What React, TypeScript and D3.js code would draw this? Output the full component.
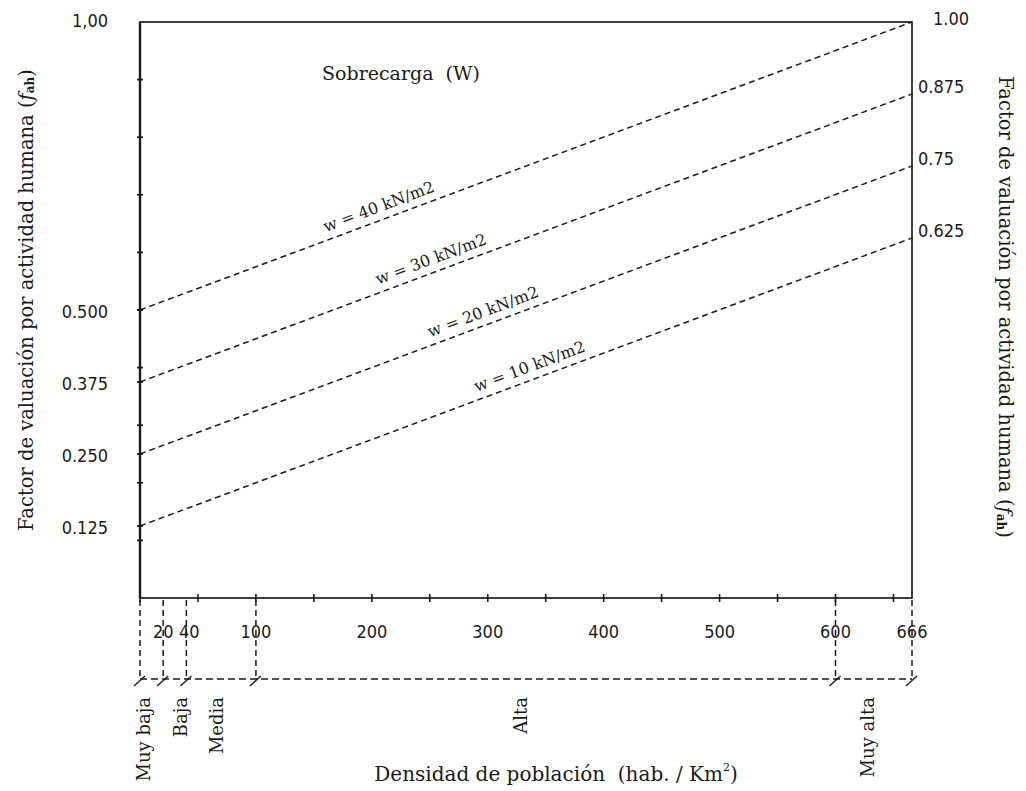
import React from "react";
import * as d3 from "d3";

const W = 1026;
const H = 791;

// Series: overload w (kN/m2), human activity factor at density 0 and 666
const loads = [10, 20, 30, 40];
const densityEnds = [0, 666];
const fahStart = [0.125, 0.25, 0.375, 0.5];
const fahEnd = [0.625, 0.75, 0.875, 1.0];
const loadLabelDensity = [340, 300, 255, 210];

// Axes
const leftTickValues = [1.0, 0.5, 0.375, 0.25, 0.125];
const leftTickLabels = ["1,00", "0.500", "0.375", "0.250", "0.125"];
const rightTickValues = [1.0, 0.875, 0.75, 0.625];
const rightTickLabels = ["1.00", "0.875", "0.75", "0.625"];
const bottomTickValues = [20, 40, 100, 200, 300, 400, 500, 600, 666];
const bottomMinorTicks = d3.range(0, 651, 50);
const leftMinorTicks = d3.range(1, 10).map((d) => d / 10);

// Density categories
const boundaries = [0, 20, 40, 100, 600, 666];
const categories = ["Muy baja", "Baja", "Media", "Alta", "Muy alta"];
const categoryAt = [3, 35, 66, 328, 628];

const SERIF = "'DejaVu Serif', 'Liberation Serif', serif";
const SANS = "'Liberation Sans Narrow', 'DejaVu Sans Condensed', 'Liberation Sans', sans-serif";

export default function App() {
  const x = d3.scaleLinear().domain([0, 666]).range([140, 912]);
  const y = d3.scaleLinear().domain([0, 1]).range([598, 22]);
  const line = d3
    .line<[number, number]>()
    .x((d) => x(d[0]))
    .y((d) => y(d[1]));

  const dimY = 679;
  const ink = "#1a1a1a";

  return (
    <svg
      width={W}
      height={H}
      style={{ position: "absolute", left: 0, top: 0, background: "#fff" }}
    >
      <rect x={0} y={0} width={W} height={H} fill="#fff" />

      {/* frame */}
      <rect
        x={x(0)}
        y={y(1)}
        width={x(666) - x(0)}
        height={y(0) - y(1)}
        fill="none"
        stroke={ink}
        strokeWidth={1.7}
      />
      <line x1={x(0)} x2={x(0)} y1={y(1)} y2={y(0)} stroke={ink} strokeWidth={2.4} />

      {/* left ticks */}
      {[...leftMinorTicks, ...fahStart].map((v, i) => (
        <line key={"lt" + i} x1={x(0) - 3} x2={x(0) + 3} y1={y(v)} y2={y(v)} stroke={ink} strokeWidth={1.8} />
      ))}
      {/* bottom ticks */}
      {bottomMinorTicks.map((v, i) => (
        <line key={"bt" + i} x1={x(v)} x2={x(v)} y1={y(0) - 4} y2={y(0) + 4} stroke={ink} strokeWidth={1.6} />
      ))}

      {/* left tick labels */}
      {leftTickValues.map((v, i) => (
        <text
          key={"ll" + i}
          x={108}
          y={y(v) + (v === 1 ? -2 : 1)}
          textAnchor="end"
          dominantBaseline="central"
          fontFamily={SANS}
          fontSize={18}
          fill={ink}
        >
          {leftTickLabels[i]}
        </text>
      ))}
      {/* right tick labels */}
      {rightTickValues.map((v, i) => (
        <text
          key={"rl" + i}
          x={x(666) + (v === 1 ? 21 : 6)}
          y={y(v) - (v === 1 ? 4 : 8)}
          textAnchor="start"
          dominantBaseline="central"
          fontFamily={SANS}
          fontSize={18}
          fill={ink}
        >
          {rightTickLabels[i]}
        </text>
      ))}

      {/* bottom tick labels */}
      {bottomTickValues.map((v, i) => (
        <text
          key={"bl" + i}
          x={x(v) + (v === 40 ? 3 : 0)}
          y={631}
          textAnchor="middle"
          dominantBaseline="central"
          fontFamily={SANS}
          fontSize={18}
          fill={ink}
        >
          {v}
        </text>
      ))}

      {/* series lines */}
      {loads.map((w, i) => {
        const pts: [number, number][] = [
          [densityEnds[0], fahStart[i]],
          [densityEnds[1], fahEnd[i]],
        ];
        return (
          <path
            key={"s" + w}
            d={line(pts) || ""}
            fill="none"
            stroke={ink}
            strokeWidth={1.5}
            strokeDasharray="6 4"
          />
        );
      })}

      {/* series labels */}
      {loads.map((w, i) => {
        const dx = x(densityEnds[1]) - x(densityEnds[0]);
        const dy = y(fahEnd[i]) - y(fahStart[i]);
        const ang = (Math.atan2(dy, dx) * 180) / Math.PI;
        const t = (loadLabelDensity[i] - densityEnds[0]) / (densityEnds[1] - densityEnds[0]);
        const fv = fahStart[i] + t * (fahEnd[i] - fahStart[i]);
        const px = x(loadLabelDensity[i]);
        const py = y(fv);
        return (
          <text
            key={"sl" + w}
            transform={`translate(${px},${py}) rotate(${ang}) translate(0,-8)`}
            textAnchor="middle"
            fontFamily={SERIF}
            fontSize={16}
            fill={ink}
          >
            {`w = ${w} kN/m2`}
          </text>
        );
      })}

      {/* title inside */}
      <text
        x={401}
        y={80}
        textAnchor="middle"
        fontFamily={SERIF}
        fontSize={19}
        fill={ink}
        style={{ whiteSpace: "pre" }}
      >
        {"Sobrecarga  (W)"}
      </text>

      {/* dimension lines below axis */}
      {boundaries.map((b, i) => (
        <g key={"bd" + i}>
          <line
            x1={x(b)}
            x2={x(b)}
            y1={y(0) + 2}
            y2={dimY}
            stroke={ink}
            strokeWidth={1.5}
            strokeDasharray="6 4"
          />
          <line
            x1={x(b) - 6}
            x2={x(b) + 5}
            y1={dimY + 7}
            y2={dimY - 3}
            stroke={ink}
            strokeWidth={1.4}
          />
        </g>
      ))}
      <line
        x1={x(0)}
        x2={x(666)}
        y1={dimY}
        y2={dimY}
        stroke={ink}
        strokeWidth={1.5}
        strokeDasharray="7 4"
      />

      {/* category labels */}
      {categories.map((c, i) => (
        <text
          key={"c" + i}
          transform={`translate(${x(categoryAt[i])},${697}) rotate(-90)`}
          textAnchor="end"
          dominantBaseline="central"
          fontFamily={SERIF}
          fontSize={18}
          fill={ink}
        >
          {c}
        </text>
      ))}

      {/* x axis title */}
      <text
        x={556}
        y={774}
        textAnchor="middle"
        dominantBaseline="central"
        fontFamily={SERIF}
        fontSize={20}
        fill={ink}
        style={{ whiteSpace: "pre" }}
      >
        {"Densidad de población  (hab. / Km"}
        <tspan fontSize={11} dy={-7}>2</tspan>
        <tspan dy={7}>)</tspan>
      </text>

      {/* left y title */}
      <text
        transform={`translate(26,300) rotate(-90)`}
        textAnchor="middle"
        dominantBaseline="central"
        fontFamily={SERIF}
        fontSize={19.5}
        fill={ink}
      >
        {"Factor de valuación por actividad humana ("}
        <tspan fontStyle="italic">f</tspan>
        <tspan fontSize={12} dy={4} fontWeight="bold">ah</tspan>
        <tspan dy={-4}>)</tspan>
      </text>

      {/* right y title */}
      <text
        transform={`translate(1005,307) rotate(90)`}
        textAnchor="middle"
        dominantBaseline="central"
        fontFamily={SERIF}
        fontSize={19.5}
        fill={ink}
      >
        {"Factor de valuación por actividad humana ("}
        <tspan fontStyle="italic">f</tspan>
        <tspan fontSize={12} dy={4} fontWeight="bold">ah</tspan>
        <tspan dy={-4}>)</tspan>
      </text>
    </svg>
  );
}
